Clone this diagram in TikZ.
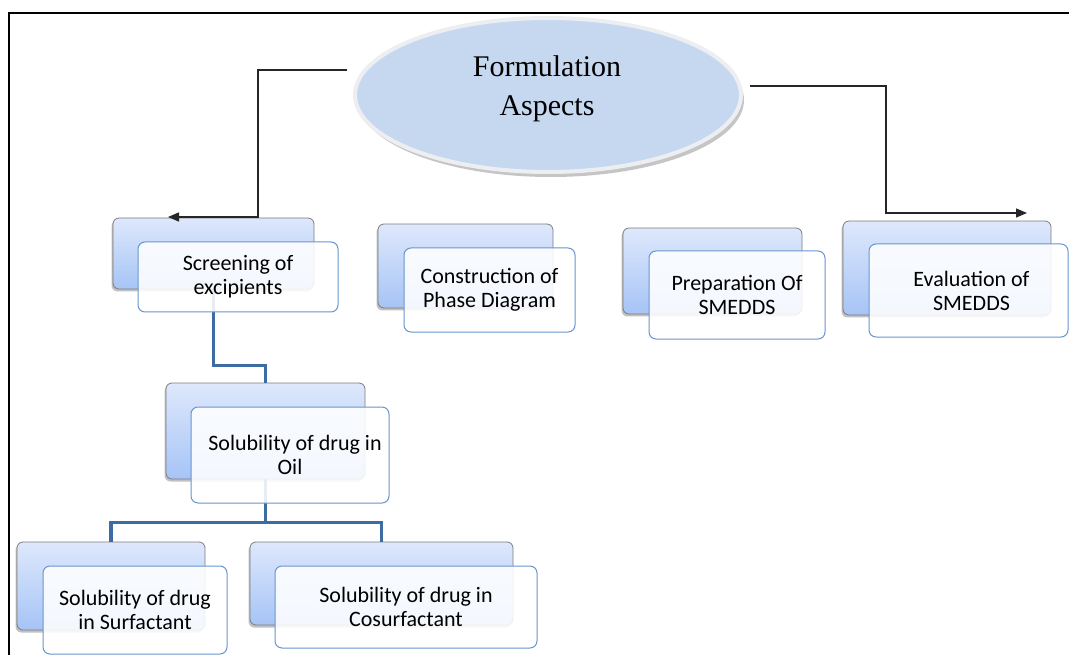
\documentclass[tikz,border=0pt]{standalone}
\usepackage{fontspec}
\setmainfont{Carlito}
\newfontfamily\serifhead{Liberation Serif}
\usetikzlibrary{shapes.geometric,arrows.meta,shadows}
\definecolor{backtop}{RGB}{222,232,252}
\definecolor{backbot}{RGB}{166,196,246}
\definecolor{backline}{RGB}{125,125,125}
\definecolor{frontline}{RGB}{104,150,206}
\definecolor{linkblue}{RGB}{60,108,162}
\definecolor{ellfill}{RGB}{198,216,240}
\definecolor{ellring}{RGB}{236,238,242}
\tikzset{
  backbox/.style={draw=backline, line width=0.8pt, rounded corners=6pt,
    top color=backtop, bottom color=backbot, inner sep=0pt,
    drop shadow={shadow xshift=-1.5pt, shadow yshift=-2.5pt, opacity=0.35, fill=black!70}},
  frontbox/.style={draw=frontline, line width=1pt, rounded corners=7pt,
    fill=white, fill opacity=0.88, text opacity=1, inner sep=0pt, align=center,
    font=\fontsize{22pt}{24pt}\selectfont, text=black},
  blink/.style={draw=linkblue, line width=3.2pt},
  klink/.style={draw=black!85, line width=1.4pt},
  karrow/.style={klink, -{Triangle[length=11pt,width=9pt]}}
}
\begin{document}
\begin{tikzpicture}[x=1pt,y=-1pt]
\useasboundingbox (0,0) rectangle (1069,655);
\begin{scope}
\clip (0,0) rectangle (1069,655);
% frame
\draw[line width=1.5pt] (9,655) -- (9,13) -- (1069,13);

% central ellipse
\fill[black!45, opacity=0.5] (551,100) ellipse [x radius=193, y radius=77];
\node[ellipse, fill=ellfill, draw=ellring, line width=4pt,
  minimum width=386pt, minimum height=154pt] (fa) at (548,95) {};
\node[font=\serifhead\fontsize{30pt}{39pt}\selectfont, align=center] (fat) at (547,89) {Formulation\\Aspects};

% back boxes
\node[backbox, minimum width=201pt, minimum height=71pt] (b1) at (213.5,253.5) {};
\node[backbox, minimum width=175pt, minimum height=84pt] (b2) at (465.5,266) {};
\node[backbox, minimum width=179pt, minimum height=86pt] (b3) at (712.5,271) {};
\node[backbox, minimum width=208pt, minimum height=94pt] (b4) at (947,268) {};
\node[backbox, minimum width=199pt, minimum height=96pt] (b5) at (265.5,431) {};
\node[backbox, minimum width=188pt, minimum height=88pt] (b6) at (111,586) {};
\node[backbox, minimum width=263pt, minimum height=83pt] (b7) at (381.5,583.5) {};

% blue connectors
\draw[blink] (b1.south) -- ++(0,76) -| (b5.north);
\draw[blink] (b5.south) -- ++(0,43) coordinate (j);
\draw[blink] (b6.north) |- (j) -| (b7.north);

% front boxes
\node[frontbox, minimum width=200pt, minimum height=70pt] (f1) at (238,277) {Screening of\\excipients};
\node[frontbox, minimum width=171pt, minimum height=84pt] (f2) at (489.5,290) {Construction of\\Phase Diagram};
\node[frontbox, minimum width=176pt, minimum height=88pt] (f3) at (737,295) {Preparation Of\\SMEDDS};
\node[frontbox, minimum width=199pt, minimum height=93pt] (f4) at (968.5,290.5) {\hspace*{6pt}Evaluation of\\\hspace*{6pt}SMEDDS};
\node[frontbox, minimum width=198pt, minimum height=96pt] (f5) at (290,455) {\hspace*{10pt}Solubility of drug in\\Oil};
\node[frontbox, minimum width=184pt, minimum height=88pt] (f6) at (135,610) {Solubility of drug\\in Surfactant};
\node[frontbox, minimum width=262pt, minimum height=82pt] (f7) at (406,607) {Solubility of drug in\\Cosurfactant};

% black connectors
\coordinate (la) at (347,70);
\coordinate (lb) at (258,217);
\coordinate (lc) at (168,217);
\coordinate (ra) at (750,86);
\coordinate (rb) at (886,213);
\coordinate (rc) at (1027,213);
\draw[karrow] (la) -| (lb) -- (lc);
\draw[karrow] (ra) -| (rb) -- (rc);
\end{scope}
\end{tikzpicture}
\end{document}
